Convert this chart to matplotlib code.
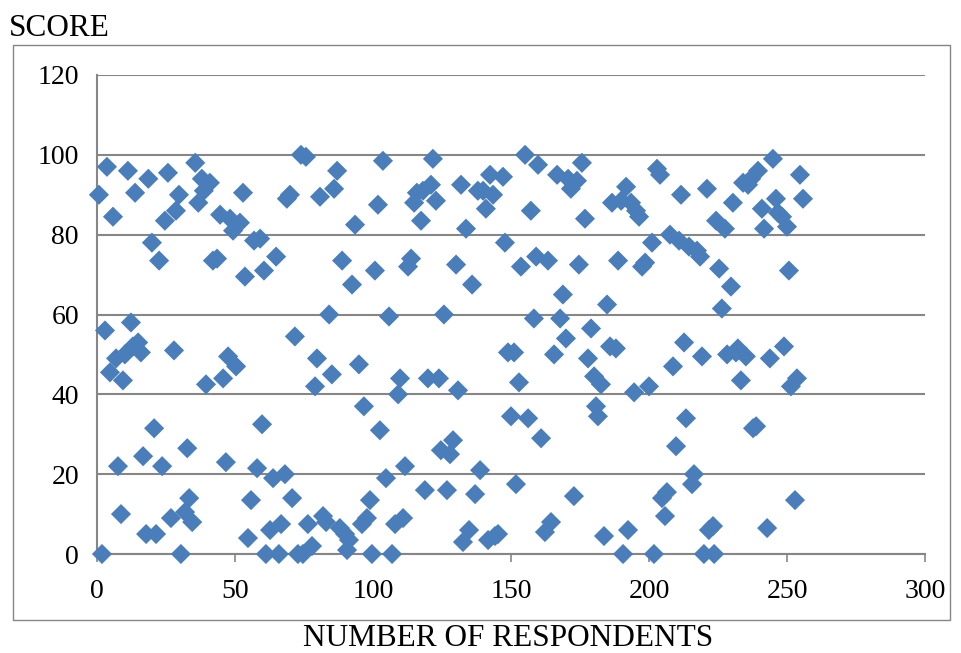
import matplotlib.pyplot as plt
from matplotlib.patches import Rectangle

plt.rcParams['font.family'] = ['Liberation Serif', 'DejaVu Serif']

# respondent number (x) and score (y)
respondent = [0.7, 1.8, 2.9, 3.6, 4.7, 5.8, 6.9, 7.6, 8.7, 9.4,
              10.1, 11.2, 12.3, 13.0, 13.8, 14.9, 15.9, 16.7, 17.8, 18.6,
              19.9, 20.7, 21.4, 22.5, 23.6, 24.6, 25.7, 26.8, 27.9, 28.6,
              29.7, 30.4, 31.9, 32.7, 33.4, 34.5, 35.6, 36.7, 38.0, 38.7,
              39.5, 40.9, 42.0, 43.5, 44.6, 45.7, 46.7, 47.5, 48.2, 49.3,
              50.4, 51.8, 52.9, 53.6, 54.7, 55.8, 56.9, 58.0, 59.1, 59.8,
              60.5, 61.2, 62.7, 63.8, 64.9, 65.9, 66.7, 68.1, 68.8, 69.9,
              70.7, 71.7, 72.8, 73.9, 74.6, 75.7, 76.4, 77.9, 79.0, 79.7,
              80.8, 81.9, 83.0, 84.1, 85.1, 85.9, 87.0, 88.0, 88.8, 89.9,
              90.6, 91.3, 92.4, 93.5, 94.9, 96.0, 96.7, 97.8, 98.9, 99.6,
              100.7, 101.8, 102.5, 103.6, 104.7, 105.8, 106.9, 108.0, 109.1, 109.8,
              110.9, 111.6, 112.7, 113.8, 114.9, 115.9, 117.4, 118.1, 118.8, 119.9,
              121.0, 121.7, 122.8, 123.9, 124.6, 125.7, 126.8, 127.9, 129.0, 130.1,
              130.8, 131.9, 132.6, 133.7, 134.8, 135.9, 137.0, 138.0, 138.8, 139.9,
              140.9, 141.7, 142.4, 143.5, 144.2, 145.3, 147.1, 147.8, 148.9, 150.0,
              151.1, 151.8, 152.9, 153.6, 155.1, 156.2, 157.2, 158.3, 159.1, 159.8,
              160.9, 162.3, 163.4, 164.5, 165.6, 166.7, 167.8, 168.8, 169.9, 170.7,
              171.7, 172.8, 173.9, 174.6, 175.7, 176.8, 177.9, 179.0, 180.1, 180.8,
              181.5, 182.6, 183.7, 184.8, 185.9, 186.6, 188.0, 188.8, 189.9, 190.6,
              191.7, 192.4, 193.5, 194.6, 195.3, 196.4, 197.5, 198.6, 200.0, 201.1,
              201.8, 202.9, 204.0, 204.7, 205.8, 206.5, 207.6, 208.7, 209.8, 210.9,
              211.6, 212.7, 213.4, 214.5, 215.6, 216.3, 217.4, 218.5, 219.2, 219.9,
              221.0, 221.7, 223.2, 223.6, 224.3, 225.4, 226.4, 227.5, 228.3, 229.7,
              230.4, 231.5, 232.2, 233.3, 234.1, 235.1, 235.9, 237.0, 237.7, 238.8,
              239.5, 240.9, 241.7, 242.8, 243.8, 244.9, 246.0, 246.7, 248.2, 248.9,
              250.0, 250.7, 251.4, 252.9, 253.6, 254.7, 255.8]

score = [90, 0, 56, 97, 45.5, 84.5, 49, 22, 10, 43.5,
         50, 96, 58, 52, 90.5, 53, 50.5, 24.5, 5, 94,
         78, 31.5, 5, 73.5, 22, 83.5, 95.5, 9, 51, 86,
         90, 0, 10.5, 26.5, 14, 8, 98, 88, 94, 91,
         42.5, 93, 73.5, 74, 85, 44, 23, 49.5, 84, 81,
         47, 83, 90.5, 69.5, 4, 13.5, 78.5, 21.5, 79, 32.5,
         71, 0, 6, 19, 74.5, 0, 7.5, 20, 89, 90,
         14, 54.5, 0, 100, 0, 99.5, 7.5, 2, 42, 49,
         89.5, 9.5, 8, 60, 45, 91.5, 96, 6.5, 73.5, 5,
         1, 3.5, 67.5, 82.5, 47.5, 7.5, 37, 9, 13.5, 0,
         71, 87.5, 31, 98.5, 19, 59.5, 0, 7.5, 40, 44,
         9, 22, 72, 74, 88, 90.5, 83.5, 91, 16, 44,
         92.5, 99, 88.5, 44, 26, 60, 16, 25, 28.5, 72.5,
         41, 92.5, 3, 81.5, 6, 67.5, 15, 91, 21, 91,
         86.5, 3.5, 95, 90, 4.5, 5, 94.5, 78, 50.5, 34.5,
         50.5, 17.5, 43, 72, 100, 34, 86, 59, 74.5, 97.5,
         29, 5.5, 73.5, 8, 50, 95, 59, 65, 54, 94,
         91.5, 14.5, 93.5, 72.5, 98, 84, 49, 56.5, 44.5, 37,
         34.5, 42.5, 4.5, 62.5, 52, 88, 51.5, 73.5, 88.5, 0,
         92, 6, 88, 40.5, 86, 84.5, 72, 73, 42, 78,
         0, 96.5, 95, 14, 9.5, 15.5, 80, 47, 27, 78.5,
         90, 53, 34, 77, 17.5, 20, 76, 74.5, 49.5, 0,
         91.5, 6, 7, 0, 83.5, 71.5, 61.5, 81.5, 50, 67,
         88, 50.5, 51.5, 43.5, 93, 49.5, 92.5, 94, 31.5, 32,
         96, 86.5, 81.5, 6.5, 49, 99, 89, 85.5, 84.5, 52,
         82, 71, 42, 13.5, 44, 95, 89]

x_ticks = [0, 50, 100, 150, 200, 250, 300]
y_ticks = [0, 20, 40, 60, 80, 100, 120]

fig = plt.figure(figsize=(9.62, 6.53), dpi=100)
ax = fig.add_axes([97 / 962, 1 - 554 / 653, 828 / 962, 479 / 653])

ax.scatter(respondent, score, marker='D', s=105, color='#4A7EBB',
           edgecolors='none', zorder=3, clip_on=False)

ax.set_xlim(0, 300)
ax.set_ylim(0, 120)
ax.set_xticks(x_ticks)
ax.set_yticks(y_ticks)
ax.grid(axis='y', color='#868686', linewidth=1.5)
ax.set_axisbelow(True)
for s in ['top', 'right']:
    ax.spines[s].set_visible(False)
for s in ['left', 'bottom']:
    ax.spines[s].set_color('#868686')
    ax.spines[s].set_linewidth(1.5)
ax.tick_params(axis='x', length=6, width=1.2, color='#868686', labelsize=20, pad=12)
ax.tick_params(axis='y', length=0, labelsize=20, pad=13)

# outer chart border
fig.patches.append(Rectangle((13 / 962, 1 - 620 / 653), 937 / 962, 575 / 653,
                             transform=fig.transFigure, fill=False,
                             edgecolor='#868686', linewidth=1.0))

fig.text(9 / 962, 1 - 28 / 653, 'SCORE', fontsize=22.5, va='center', ha='left')
fig.text(508 / 962, 1 - 639 / 653, 'NUMBER OF RESPONDENTS', fontsize=22.5,
         va='center', ha='center')

fig.savefig('out.png', dpi=100)
